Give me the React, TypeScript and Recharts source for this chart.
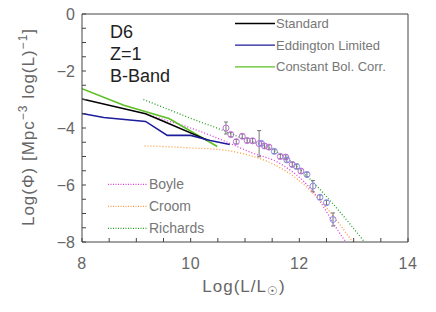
import React from 'react';
import { ComposedChart, Line, Scatter, XAxis, YAxis, ErrorBar } from 'recharts';

// ---- data ----
const standardLine = [
  { x: 8.0, y: -2.98 }, { x: 9.17, y: -3.5 }, { x: 9.53, y: -3.79 }, { x: 10.18, y: -4.32 }, { x: 10.3, y: -4.42 },
];
const eddingtonLine = [
  { x: 8.0, y: -3.49 }, { x: 8.4, y: -3.63 }, { x: 9.17, y: -3.77 }, { x: 9.57, y: -4.26 },
  { x: 10.0, y: -4.26 }, { x: 10.36, y: -4.44 }, { x: 10.72, y: -4.58 },
];
const constBolLine = [
  { x: 8.0, y: -2.62 }, { x: 8.77, y: -3.2 }, { x: 9.6, y: -3.67 }, { x: 10.49, y: -4.65 },
];
const boyleLine = [
  { x: 9.2, y: -3.52 }, { x: 9.6, y: -3.76 }, { x: 10.0, y: -4.0 }, { x: 10.55, y: -4.4 },
  { x: 11.1, y: -4.85 }, { x: 11.65, y: -5.25 }, { x: 12.24, y: -6.2 }, { x: 12.82, y: -7.9 }, { x: 12.9, y: -8.1 },
];
const croomLine = [
  { x: 9.15, y: -4.63 }, { x: 9.5, y: -4.65 }, { x: 10.0, y: -4.7 }, { x: 10.55, y: -4.76 },
  { x: 11.0, y: -4.92 }, { x: 11.5, y: -5.25 }, { x: 12.0, y: -5.85 }, { x: 12.5, y: -6.8 }, { x: 13.0, y: -8.05 },
];
const richardsLine = [
  { x: 9.13, y: -3.0 }, { x: 9.5, y: -3.28 }, { x: 10.0, y: -3.66 }, { x: 10.55, y: -4.05 },
  { x: 11.0, y: -4.4 }, { x: 11.47, y: -4.72 }, { x: 11.78, y: -5.08 }, { x: 12.2, y: -5.8 },
  { x: 12.7, y: -6.84 }, { x: 13.2, y: -8.0 },
];
const magentaPoints = [
  { x: 10.65, y: -4.0, e: 0.21 }, { x: 10.74, y: -4.23, e: 0.08 }, { x: 10.84, y: -4.48, e: 0.08 },
  { x: 10.95, y: -4.29, e: 0.08 }, { x: 11.04, y: -4.44, e: 0.08 }, { x: 11.14, y: -4.45, e: 0.08 },
  { x: 11.26, y: -4.55, e: 0.46 }, { x: 11.36, y: -4.63, e: 0.08 }, { x: 11.44, y: -4.67, e: 0.08 },
  { x: 11.65, y: -5.0, e: 0.08 }, { x: 11.75, y: -5.02, e: 0.08 }, { x: 11.87, y: -5.28, e: 0.08 },
  { x: 12.03, y: -5.51, e: 0.08 },
];
const bluePoints = [
  { x: 11.3, y: -4.54, e: 0.08 }, { x: 11.54, y: -4.82, e: 0.08 }, { x: 11.77, y: -5.12, e: 0.08 },
  { x: 11.95, y: -5.35, e: 0.08 }, { x: 12.14, y: -5.63, e: 0.08 }, { x: 12.25, y: -6.04, e: 0.2 },
  { x: 12.38, y: -6.43, e: 0.08 }, { x: 12.5, y: -6.62, e: 0.08 }, { x: 12.62, y: -7.21, e: 0.23 },
];
const xTicks = [8, 8.5, 9, 9.5, 10, 10.5, 11, 11.5, 12, 12.5, 13, 13.5, 14];
const yTicks = [-8, -7.5, -7, -6.5, -6, -5.5, -5, -4.5, -4, -3.5, -3, -2.5, -2, -1.5, -1, -0.5, 0];
const xLabels = [8, 10, 12, 14];
const yLabels = [-8, -6, -4, -2, 0];
const modelNames = ['Standard', 'Eddington Limited', 'Constant Bol. Corr.'];
const modelColors = ['#000000', '#1c1c9c', '#5cbf24'];
const obsNames = ['Boyle', 'Croom', 'Richards'];
const obsColors = ['#e03ce0', '#ff9a3c', '#22a022'];

const FONT = '"Liberation Sans", Arial, sans-serif';
const AX = '#444';
const TXT = '#666';

const fmt = (v: number) => (v < 0 ? `\u2212${Math.abs(v)}` : `${v}`);

const BottomTick = (p: any) => {
  const { x, y, payload } = p;
  const v = payload.value;
  return (
    <g>
      <line x1={x} x2={x} y1={y} y2={y - 4} stroke={AX} />
      {xLabels.includes(v) && (
        <text x={x} y={y + 27} textAnchor="middle" fontSize={16} letterSpacing={0.5} fontFamily={FONT} fill={TXT}>{v}</text>
      )}
    </g>
  );
};
const TopTick = (p: any) => {
  const { x, y } = p;
  return <line x1={x} x2={x} y1={y} y2={y + 4} stroke={AX} />;
};
const LeftTick = (p: any) => {
  const { x, y, payload } = p;
  const v = payload.value;
  return (
    <g>
      <line x1={x} x2={x + 4} y1={y} y2={y} stroke={AX} />
      {yLabels.includes(v) && (
        <text x={x - 7} y={y + 6} textAnchor="end" fontSize={16} fontFamily={FONT} fill={TXT}>{fmt(v)}</text>
      )}
    </g>
  );
};
const RightTick = (p: any) => {
  const { x, y } = p;
  return <line x1={x} x2={x - 4} y1={y} y2={y} stroke={AX} />;
};

const circleShape = (color: string) => (p: any) => {
  const { cx, cy } = p;
  if (cx == null || cy == null) return <g />;
  return <circle cx={cx} cy={cy} r={3} fill="none" stroke={color} strokeWidth={1} />;
};

export default function App() {
  return (
    <div style={{ position: 'absolute', left: 0, top: 0, width: 436, height: 312, background: '#fff' }}>
      <ComposedChart width={436} height={312} margin={{ top: 13, right: 27, bottom: 69, left: 81 }}>
        <XAxis xAxisId={0} dataKey="x" type="number" domain={[8, 14]} ticks={xTicks} interval={0}
          allowDataOverflow height={1} tickSize={0} tickMargin={0} tick={<BottomTick />} stroke={AX} />
        <XAxis xAxisId="top" orientation="top" dataKey="x" type="number" domain={[8, 14]} ticks={xTicks}
          interval={0} height={1} tickSize={0} tickMargin={0} tick={<TopTick />} stroke={AX} />
        <YAxis yAxisId={0} dataKey="y" type="number" domain={[-8, 0]} ticks={yTicks} interval={0}
          allowDataOverflow width={1} tickSize={0} tickMargin={0} tick={<LeftTick />} stroke={AX} />
        <YAxis yAxisId="right" orientation="right" type="number" domain={[-8, 0]} ticks={yTicks}
          interval={0} width={1} tickSize={0} tickMargin={0} tick={<RightTick />} stroke={AX} />

        <Line data={boyleLine} dataKey="y" type="monotone" stroke={obsColors[0]} strokeWidth={1.3}
          strokeDasharray="1 2" dot={false} isAnimationActive={false} />
        <Line data={croomLine} dataKey="y" type="monotone" stroke={obsColors[1]} strokeWidth={1.3}
          strokeDasharray="1 2" dot={false} isAnimationActive={false} />
        <Line data={richardsLine} dataKey="y" type="monotone" stroke={obsColors[2]} strokeWidth={1.3}
          strokeDasharray="1 2" dot={false} isAnimationActive={false} />

        <Line data={constBolLine} dataKey="y" type="linear" stroke={modelColors[2]} strokeWidth={1.6}
          dot={false} isAnimationActive={false} />
        <Line data={standardLine} dataKey="y" type="linear" stroke={modelColors[0]} strokeWidth={1.6}
          dot={false} isAnimationActive={false} />
        <Line data={eddingtonLine} dataKey="y" type="linear" stroke={modelColors[1]} strokeWidth={1.6}
          dot={false} isAnimationActive={false} />

        <Scatter data={magentaPoints} dataKey="y" shape={circleShape('#c46ee0')} isAnimationActive={false}>
          <ErrorBar dataKey="e" direction="y" width={2} stroke="#777" strokeWidth={1} />
        </Scatter>
        <Scatter data={bluePoints} dataKey="y" shape={circleShape('#8a8cf0')} isAnimationActive={false}>
          <ErrorBar dataKey="e" direction="y" width={2} stroke="#777" strokeWidth={1} />
        </Scatter>
      </ComposedChart>

      <svg width={436} height={312} style={{ position: 'absolute', left: 0, top: 0, pointerEvents: 'none' }}>
        <g fontFamily={FONT} fontSize={18} fill="#222">
          <text x={110} y={38}>D6</text>
          <text x={110} y={60}>Z=1</text>
          <text x={110} y={82}>B-Band</text>
        </g>
        {modelNames.map((n, i) => (
          <g key={n}>
            <line x1={235} x2={275} y1={23.5 + i * 21.7} y2={23.5 + i * 21.7} stroke={modelColors[i]} strokeWidth={1.3} />
            <text x={276} y={28 + i * 21.7} fontFamily={FONT} fontSize={13} fill="#777">{n}</text>
          </g>
        ))}
        {obsNames.map((n, i) => (
          <g key={n}>
            <line x1={108} x2={148} y1={184.3 + i * 22} y2={184.3 + i * 22} stroke={obsColors[i]} strokeWidth={1.3} strokeDasharray="1 1.5" />
            <text x={149} y={189 + i * 22} fontFamily={FONT} fontSize={14} fill="#777">{n}</text>
          </g>
        ))}
        <text x={244} y={292} textAnchor="middle" fontFamily={FONT} fontSize={17} letterSpacing={1} fill={TXT}>
          Log(L/L<tspan fontSize={12} dy={3}>☉</tspan><tspan dy={-3}>)</tspan>
        </text>
        <text transform="translate(34,127) rotate(-90)" textAnchor="middle" fontFamily={FONT} fontSize={17} letterSpacing={1} fill={TXT}>
          Log(Φ)  [Mpc<tspan fontSize={12} dy={-7}>−3</tspan><tspan dy={7}>  log(L)</tspan><tspan fontSize={12} dy={-7}>−1</tspan><tspan dy={7}>]</tspan>
        </text>
      </svg>
    </div>
  );
}
